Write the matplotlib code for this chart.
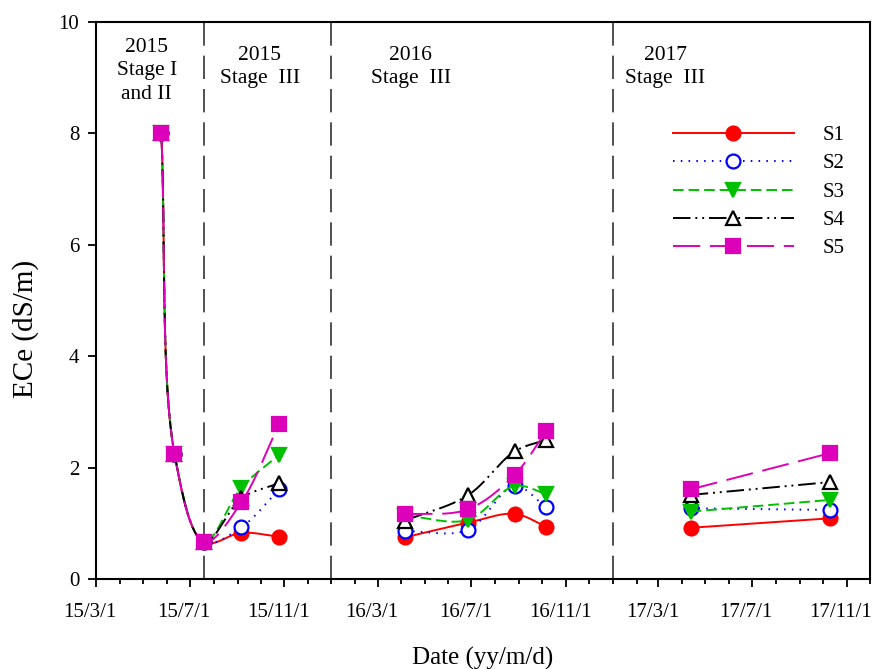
import numpy as np
import matplotlib
matplotlib.use("Agg")
import matplotlib.pyplot as plt
import matplotlib.dates as mdates
import matplotlib.transforms as mtransforms
from matplotlib.ticker import FuncFormatter, MultipleLocator

plt.rcParams['font.family'] = ['Liberation Serif', 'DejaVu Serif']

# sampling dates
dates_2015 = np.array(['2015-05-25', '2015-06-11', '2015-07-20', '2015-09-06', '2015-10-25'], dtype='datetime64[D]')
dates_2016 = np.array(['2016-04-06', '2016-06-26', '2016-08-26', '2016-10-06'], dtype='datetime64[D]')
dates_2017 = np.array(['2017-04-12', '2017-10-10'], dtype='datetime64[D]')

# ECe (dS/m), stage I/II values are shared by all plots
common_2015 = [8.0, 2.25, 0.66]
s1_2015 = [0.83, 0.76]
s2_2015 = [0.93, 1.61]
s3_2015 = [1.64, 2.23]
s4_2015 = [1.45, 1.72]
s5_2015 = [1.38, 2.78]

s1_2016 = [0.75, 1.01, 1.17, 0.94]
s2_2016 = [0.86, 0.88, 1.67, 1.29]
s3_2016 = [1.14, 1.06, 1.67, 1.53]
s4_2016 = [1.05, 1.50, 2.29, 2.50]
s5_2016 = [1.16, 1.25, 1.87, 2.65]

s1_2017 = [0.92, 1.09]
s2_2017 = [1.27, 1.24]
s3_2017 = [1.21, 1.42]
s4_2017 = [1.51, 1.74]
s5_2017 = [1.61, 2.26]

names = ['S1', 'S2', 'S3', 'S4', 'S5']
stage_lines = np.array(['2015-07-20', '2016-01-01', '2017-01-01'], dtype='datetime64[D]')

styles = [
    dict(color='#ff0000', ls='-', marker='o', mfc='#ff0000', mec='#ff0000'),
    dict(color='#0000ff', ls=(0, (0.8, 3.2)), marker='o', mfc='white', mec='#0000ff'),
    dict(color='#00c000', ls=(0, (5.5, 2.5)), marker='v', mfc='#00c000', mec='#00c000'),
    dict(color='black', ls=(0, (9, 2.5, 1, 2.5, 1, 2.5)), marker='^', mfc='white', mec='black'),
    dict(color='#dd00bb', ls=(0, (14, 5)), marker='s', mfc='#dd00bb', mec='#dd00bb'),
]

# approx screen scale (px per day, px per dS/m) so the curve is smoothed like on screen
SX, SY = 0.77, 55.7


def smooth(x, y, n=60):
    # centripetal catmull-rom through the points
    P = np.column_stack([np.asarray(x, float) * SX, np.asarray(y, float) * SY])
    if len(P) < 3:
        return np.asarray(x, float), np.asarray(y, float)
    ext = np.vstack([2 * P[0] - P[1], P, 2 * P[-1] - P[-2]])
    out = []
    for i in range(1, len(ext) - 2):
        p0, p1, p2, p3 = ext[i - 1:i + 3]
        t0 = 0.0
        t1 = t0 + np.linalg.norm(p1 - p0) ** 0.5
        t2 = t1 + np.linalg.norm(p2 - p1) ** 0.5
        t3 = t2 + np.linalg.norm(p3 - p2) ** 0.5
        t = np.linspace(t1, t2, n)[:, None]
        a1 = (t1 - t) / (t1 - t0) * p0 + (t - t0) / (t1 - t0) * p1
        a2 = (t2 - t) / (t2 - t1) * p1 + (t - t1) / (t2 - t1) * p2
        a3 = (t3 - t) / (t3 - t2) * p2 + (t - t2) / (t3 - t2) * p3
        b1 = (t2 - t) / (t2 - t0) * a1 + (t - t0) / (t2 - t0) * a2
        b2 = (t3 - t) / (t3 - t1) * a2 + (t - t1) / (t3 - t1) * a3
        c = (t2 - t) / (t2 - t1) * b1 + (t - t1) / (t2 - t1) * b2
        out.append(c)
    out = np.vstack(out)
    return out[:, 0] / SX, out[:, 1] / SY


def to_num(d):
    return d.astype(float)  # days since 1970 == matplotlib date numbers


fig = plt.figure(figsize=(8.75, 6.69), dpi=100)
ax = fig.add_axes([0.1097, 0.1345, 0.8846, 0.8326])

series = [
    (s1_2015, s1_2016, s1_2017),
    (s2_2015, s2_2016, s2_2017),
    (s3_2015, s3_2016, s3_2017),
    (s4_2015, s4_2016, s4_2017),
    (s5_2015, s5_2016, s5_2017),
]

for d in stage_lines:
    ax.axvline(to_num(d), color='#333333', lw=1.2, ls=(0, (14, 6)), zorder=1)

for i, (name, st, (a, b, c)) in enumerate(zip(names, styles, series)):
    segs = [(dates_2015, common_2015 + a), (dates_2016, b), (dates_2017, c)]
    for dd, vals in segs:
        xs, ys = smooth(to_num(dd), vals)
        ax.plot(xs, ys, color=st['color'], ls=st['ls'], lw=1.4, zorder=2 + i)
        ax.plot(to_num(dd), vals, ls='none', marker=st['marker'], ms=10,
                mfc=st['mfc'], mec=st['mec'], mew=1.6, zorder=2.5 + i)

# legend proxies with line + marker
handles = []
for name, st in zip(names, styles):
    h, = ax.plot([], [], color=st['color'], ls=st['ls'], lw=1.4, marker=st['marker'],
                 ms=10, mfc=st['mfc'], mec=st['mec'], mew=1.6)
    handles.append(h)
fig.legend(handles, names, loc='center left', bbox_to_anchor=(0.769, 0.713),
           bbox_transform=fig.transFigure, frameon=False, fontsize=15,
           handlelength=5.8, handletextpad=1.4, labelspacing=0.42,
           borderpad=0, borderaxespad=0, numpoints=1)

ax.set_xlim(to_num(np.datetime64('2015-03-01')), to_num(np.datetime64('2017-12-01')))
ax.set_ylim(0, 10)
ax.xaxis.set_major_locator(mdates.MonthLocator(bymonth=[3, 7, 11]))
ax.xaxis.set_minor_locator(mdates.MonthLocator())


def fmt_date(v, pos):
    d = mdates.num2date(v)
    return f"{d.year % 100}/{d.month}/{d.day}"


ax.xaxis.set_major_formatter(FuncFormatter(fmt_date))
ax.yaxis.set_major_locator(MultipleLocator(2))

ax.tick_params(axis='both', which='major', direction='out', length=6, width=1.3,
               labelsize=15, top=False, right=False)
ax.tick_params(axis='x', which='minor', direction='out', length=3.5, width=1.3)
ax.tick_params(axis='x', which='major', pad=11)
ax.tick_params(axis='y', which='major', pad=6)
for sp in ax.spines.values():
    sp.set_linewidth(1.5)

shift = mtransforms.ScaledTranslation(-6 / 100, 0, fig.dpi_scale_trans)
for lab in ax.get_xticklabels():
    lab.set_transform(lab.get_transform() + shift)

ax.set_xlabel('Date (yy/m/d)', fontsize=18, labelpad=18)
ax.set_ylabel('ECe (dS/m)', fontsize=21)
ax.yaxis.set_label_coords(-0.073, 0.449)

stage_text = [
    ('2015-05-06', 9.72, '2015\nStage I\nand II'),
    ('2015-09-30', 9.57, '2015\nStage  III'),
    ('2016-04-13', 9.57, '2016\nStage  III'),
    ('2017-03-10', 9.57, '2017\nStage  III'),
]
for d, yv, t in stage_text:
    ax.text(to_num(np.datetime64(d)), yv, t, ha='center', va='top', fontsize=15.5,
            multialignment='center', linespacing=1.32)

fig.savefig('out.png', dpi=100)
